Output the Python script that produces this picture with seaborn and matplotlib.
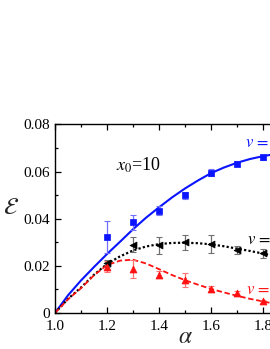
import matplotlib
matplotlib.use("Agg")
import matplotlib.pyplot as plt
import seaborn as sns
import pandas as pd
from matplotlib.ticker import MultipleLocator

sns.set_style("ticks")
plt.rcParams['font.family'] = ['Liberation Serif', 'DejaVu Serif']
plt.rcParams['mathtext.fontset'] = 'stix'

# ---- data ----
alpha_pts = [1.2, 1.3, 1.4, 1.5, 1.6, 1.7, 1.8]
blue_pts = [0.0322, 0.0384, 0.0434, 0.0499, 0.0594, 0.0633, 0.0660]
blue_err = [0.0067, 0.0030, 0.0020, 0.0015, 0.0015, 0.0010, 0.0010]
black_pts = [0.0211, 0.0289, 0.0287, 0.0299, 0.0292, 0.0267, 0.0253]
black_err = [0.0015, 0.0032, 0.0035, 0.0033, 0.0037, 0.0015, 0.0020]
red_pts = [0.0197, 0.0186, 0.0162, 0.0140, 0.0102, 0.0083, 0.0049]
red_err = [0.0025, 0.0037, 0.0015, 0.0028, 0.0012, 0.0012, 0.0008]

alpha_curve = [1.0, 1.05, 1.1, 1.15, 1.2, 1.25, 1.3, 1.35, 1.4, 1.45,
               1.5, 1.55, 1.6, 1.65, 1.7, 1.75, 1.8, 1.85]
blue_curve = [0.0, 0.0075, 0.0138, 0.0195, 0.0250, 0.0302, 0.0355, 0.0404,
              0.0448, 0.0490, 0.0528, 0.0562, 0.0593, 0.0617, 0.0637, 0.0653,
              0.0665, 0.0675]
black_curve = [0.0, 0.0060, 0.0108, 0.0162, 0.0208, 0.0240, 0.0265, 0.0282,
               0.0292, 0.0297, 0.0298, 0.0296, 0.0291, 0.0283, 0.0273, 0.0263,
               0.0252, 0.0240]
red_curve = [0.0, 0.0058, 0.0105, 0.0160, 0.0203, 0.0222, 0.0226, 0.0210,
             0.0186, 0.0161, 0.0139, 0.0120, 0.0102, 0.0087, 0.0073, 0.0060,
             0.0049, 0.0038]

x_ticks = [1.0, 1.2, 1.4, 1.6, 1.8, 2.0]
y_ticks = [0, 0.02, 0.04, 0.06, 0.08]
x_ticklabels = ['1.0', '1.2', '1.4', '1.6', '1.8', '2.0']
y_ticklabels = ['0', '0.02', '0.04', '0.06', '0.08']

BLUE = '#0a14ff'
RED = '#ff1010'
BLACK = '#000000'

fig = plt.figure(figsize=(2.70, 3.49), dpi=100)
ax = fig.add_axes([0.2037, 0.1032, 0.963, 0.5405])

curves = pd.DataFrame({'alpha': alpha_curve, 'blue': blue_curve,
                       'black': black_curve, 'red': red_curve})
sns.lineplot(data=curves, x='alpha', y='blue', color=BLUE, lw=1.5,
             ls='-', ax=ax)
sns.lineplot(data=curves, x='alpha', y='black', color=BLACK, lw=1.6,
             ls=(0, (1, 1)), ax=ax)
sns.lineplot(data=curves, x='alpha', y='red', color=RED, lw=1.3,
             ls=(0, (3, 1.5)), ax=ax)

for ys, es, c, ec, m, ms in [
        (blue_pts, blue_err, BLUE, '#7070ff', 's', 4.5),
        (black_pts, black_err, BLACK, '#707070', '<', 5),
        (red_pts, red_err, RED, '#ff7070', '^', 5)]:
    ax.errorbar(alpha_pts, ys, yerr=es, fmt='none', ecolor=ec,
                elinewidth=0.9, capsize=2, capthick=0.8, zorder=3)
    sns.scatterplot(x=alpha_pts, y=ys, color=c, marker=m, s=ms ** 2,
                    edgecolor=c, linewidth=0.5, ax=ax, zorder=4)

ax.set_xlim(1.0, 2.0)
ax.set_ylim(0, 0.08)
ax.set_xticks(x_ticks)
ax.set_xticklabels(x_ticklabels)
ax.set_yticks(y_ticks)
ax.set_yticklabels(y_ticklabels)
ax.xaxis.set_minor_locator(MultipleLocator(0.1))
ax.yaxis.set_minor_locator(MultipleLocator(0.01))
ax.tick_params(which='both', direction='in', top=True, right=False,
               labelsize=11, width=0.9, colors='black')
ax.tick_params(which='major', length=4)
ax.tick_params(which='minor', length=2.5)
ax.tick_params(axis='x', pad=5)
for s in ax.spines.values():
    s.set_linewidth(1.0)
    s.set_color('black')

ax.set_xlabel(r'$\alpha$', fontsize=17, labelpad=-4)
ax.set_ylabel(r'$\mathcal{E}$', fontsize=17, rotation=0, labelpad=6)
ax.yaxis.set_label_coords(-0.17, 0.5)

ax.text(1.235, 0.0605, r'$x_0$=10', fontsize=13, color='black')
ax.text(1.730, 0.0703, r'$v\,=\,1$', fontsize=12, color=BLUE)
ax.text(1.740, 0.0293, r'$v\,=\,0.5$', fontsize=12, color=BLACK)
ax.text(1.735, 0.0080, r'$v\,=\,0$', fontsize=12, color=RED)

fig.savefig('out.png', dpi=100)
